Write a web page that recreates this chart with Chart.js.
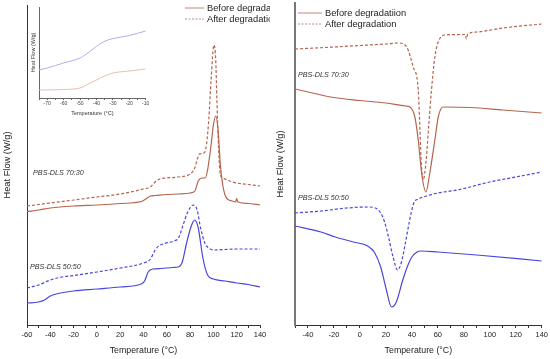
<!DOCTYPE html>
<html>
<head>
<meta charset="utf-8">
<script src="https://cdn.jsdelivr.net/npm/chart.js@4"></script>
<style>
  body { margin: 0; background: #fff; }
  #wrap { position: relative; width: 550px; height: 359px; overflow: hidden; }
  canvas { position: absolute; top: 0; }
</style>
</head>
<body>
<div id="wrap">
  <canvas id="leftChart" width="275" height="359" style="left:0"></canvas>
  <canvas id="rightChart" width="275" height="359" style="left:275px"></canvas>
  <canvas id="insetChart" width="140" height="120" style="left:20px"></canvas>
</div>
<script>
// ---- left panel: heating scans (heat flow, arbitrary offset units) ----
const leftT70Before = [-60, -50, -40, -20, 0, 20, 38, 42, 46, 50, 60, 70, 80, 84, 87, 90, 93, 95, 98, 100, 102, 104, 106, 108, 110, 112, 116, 119, 120, 121, 130, 140];
const leftHF70Before = [113.3, 115, 117, 119, 120, 121.5, 123.5, 126, 129, 129.5, 130.5, 131, 132, 134, 144, 147, 147, 155, 180, 200, 209, 195, 160, 140, 130, 126, 124, 123, 126.5, 123, 121.5, 120];
const leftT70After = [-60, -40, -20, 0, 20, 40, 46, 50, 54, 60, 70, 80, 84, 86, 88, 92, 94, 96, 98, 100.5, 102, 103, 104.5, 106, 108, 114, 120, 130, 140];
const leftHF70After = [119, 122, 125, 128, 131, 136, 138, 143, 146, 147, 148, 151, 157, 165, 171, 172, 180, 205, 245, 280, 265, 225, 175, 150, 147, 144, 142, 140.5, 139];
const leftT50Before = [-60, -50, -45, -40, -35, -20, 0, 20, 38, 41, 44, 48, 55, 65, 70, 73, 77, 81, 84, 87, 91, 95, 100, 110, 120, 130, 140];
const leftHF50Before = [22, 23, 25, 29, 31, 34, 36, 38, 41, 44, 53, 56, 56.5, 57.5, 58, 62, 82, 99, 105, 97, 67, 50, 46, 44, 42, 40.5, 38];
const leftT50After = [-60, -50, -40, -30, -20, 0, 20, 40, 46, 50, 53, 58, 66, 70, 74, 78, 83, 86, 89, 93, 96, 100, 110, 120, 140];
const leftHF50After = [37, 40, 45, 48, 49.5, 53, 57, 62, 66, 75, 79, 81.5, 84, 87, 100, 113, 120, 115, 97, 81, 77, 75, 75.5, 76, 76];

// ---- right panel: cooling scans ----
const rightT70Before = [-50, -20, 0, 20, 35, 38.5, 42.3, 44.9, 47.5, 50.8, 53.8, 57.7, 60.3, 64, 85, 110, 140];
const rightHF70Before = [236, 227.5, 224.5, 222, 219, 218, 208, 185, 152, 133, 152, 185, 208, 218, 217.5, 215, 212];
const rightT70After = [-50, -20, 0, 20, 30, 36, 41, 44.9, 47.4, 48.7, 51, 53, 55.1, 57.7, 60.3, 65, 81, 82, 83, 90, 110, 140];
const rightHF70After = [276, 278, 279.5, 281, 282, 278, 258, 235, 158, 145, 165, 200, 235, 268, 283, 290, 290.5, 286, 291, 293, 297, 301];
const rightT50Before = [-50, -30, -19, -5, 6, 11, 16, 20, 24.4, 28, 33, 37, 40, 44, 47, 60, 90, 140];
const rightHF50Before = [99, 93, 88, 83, 79, 73, 58, 37, 18, 23, 45, 60, 68, 73, 74, 73, 70, 64];
const rightT50After = [-50, -30, -10, 6, 12, 16, 19, 22, 25.5, 29, 32, 35, 38, 41.5, 45, 50, 60, 75, 100, 120, 140];
const rightHF50After = [112, 114, 117, 118, 117, 112, 103, 88, 68, 55, 63, 82, 103, 122, 126, 128.5, 132, 135, 143, 148, 153];

// ---- inset: glass transition region ----
const insetTBlue = [-75, -70, -60, -50, -47, -42, -38, -33, -25, -20, -10];
const insetHFBlue = [28, 30, 35, 40, 43, 49, 54, 58, 61, 62.5, 67];
const insetTRed = [-75, -60, -50, -45, -40, -35, -30, -20, -10];
const insetHFRed = [8, 8.5, 10, 14, 18, 22, 25, 27, 29];

const legendLabelsLeft = ['Before degradation', 'After degradation'];
const legendLabelsRight = ['Before degradatiion', 'After degradation'];
const sampleLabels = ['PBS-DLS 70:30', 'PBS-DLS 50:50'];

const RED = '#b5644f';
const BLUE = '#4747dc';
const FONT = "'Liberation Sans', Arial, sans-serif";
Chart.defaults.font.family = FONT;
Chart.defaults.color = '#222';

function pts(xs, ys) {
  return xs.map((x, i) => ({ x: x, y: ys[i] }));
}

function line(data, color, dashed) {
  return {
    data: data,
    borderColor: color,
    borderWidth: 1.2,
    borderDash: dashed ? [3, 2] : [],
    pointRadius: 0,
    fill: false,
    cubicInterpolationMode: 'monotone'
  };
}

// draws legend block and the italic sample names
function textPlugin(cfg) {
  return {
    id: 'panelText',
    afterDraw(chart) {
      const ctx = chart.ctx;
      const sx = chart.scales.x, sy = chart.scales.y;
      ctx.save();
      ctx.beginPath();
      ctx.rect(0, 0, cfg.clipRight, chart.height);
      ctx.clip();
      ctx.font = '9.3px ' + FONT;
      ctx.textBaseline = 'middle';
      cfg.legend.forEach((item, i) => {
        const y = cfg.legendY + i * 11;
        ctx.strokeStyle = '#c08a7c';
        ctx.lineWidth = 1;
        ctx.setLineDash(i === 0 ? [] : [2, 1.5]);
        ctx.beginPath();
        ctx.moveTo(cfg.legendX, y);
        ctx.lineTo(cfg.legendX + cfg.sampleLen, y);
        ctx.stroke();
        ctx.setLineDash([]);
        ctx.fillStyle = '#222';
        ctx.fillText(item, cfg.legendX + cfg.sampleLen + 3, y);
      });
      ctx.font = 'italic 7.2px ' + FONT;
      ctx.fillStyle = '#333';
      cfg.notes.forEach(n => {
        ctx.fillText(n.text, sx.getPixelForValue(n.x), sy.getPixelForValue(n.y));
      });
      ctx.restore();
    }
  };
}

function panelOptions(xMin, xMax, yMax, yWidth, pad, yBorder) {
  return {
    responsive: false,
    animation: false,
    devicePixelRatio: 1,
    layout: { padding: pad },
    plugins: { legend: { display: false }, tooltip: { enabled: false } },
    scales: {
      x: {
        type: 'linear', min: xMin, max: xMax,
        afterFit: s => { s.height = 34; },
        ticks: {
          stepSize: 10, autoSkip: false, maxRotation: 0, padding: 2,
          font: { size: 7.5 }, color: '#222',
          callback: v => (v % 20 === 0 ? v : '')
        },
        grid: { drawOnChartArea: false, tickLength: 3, color: '#333' },
        border: { color: '#333', width: 1 },
        title: { display: true, text: 'Temperature (°C)', font: { size: 8.8 }, color: '#222', padding: { top: 0, bottom: 3 } }
      },
      y: {
        min: 0, max: yMax,
        afterFit: s => { s.width = yWidth; },
        ticks: { display: false },
        grid: { display: false },
        border: yBorder,
        title: { display: true, text: 'Heat Flow (W/g)', font: { size: 9.3 }, color: '#222', padding: { top: yWidth > 25 ? 2 : 0, bottom: 0 } }
      }
    }
  };
}

new Chart(document.getElementById('leftChart'), {
  type: 'line',
  data: {
    datasets: [
      line(pts(leftT70Before, leftHF70Before), RED, false),
      line(pts(leftT70After, leftHF70After), RED, true),
      line(pts(leftT50Before, leftHF50Before), BLUE, false),
      line(pts(leftT50After, leftHF50After), BLUE, true)
    ]
  },
  options: panelOptions(-60, 140, 320, 27, { top: 5, right: 15, left: 0, bottom: 0 }, { color: '#333', width: 1 }),
  plugins: [textPlugin({
    legend: legendLabelsLeft, legendX: 185, legendY: 8, sampleLen: 19, clipRight: 270,
    notes: [{ text: sampleLabels[0], x: -54.8, y: 152 }, { text: sampleLabels[1], x: -57.4, y: 58 }]
  })]
});

new Chart(document.getElementById('rightChart'), {
  type: 'line',
  data: {
    datasets: [
      line(pts(rightT70Before, rightHF70Before), RED, false),
      line(pts(rightT70After, rightHF70After), RED, true),
      line(pts(rightT50Before, rightHF50Before), BLUE, false),
      line(pts(rightT50After, rightHF50After), BLUE, true)
    ]
  },
  options: panelOptions(-50, 140, 322, 20, { top: 3, right: 8, left: 0, bottom: 0 }, { color: '#777', width: 2 }),
  plugins: [textPlugin({
    legend: legendLabelsRight, legendX: 23, legendY: 13, sampleLen: 24, clipRight: 275,
    notes: [{ text: sampleLabels[0], x: -47.7, y: 250 }, { text: sampleLabels[1], x: -47.7, y: 127 }]
  })]
});

new Chart(document.getElementById('insetChart'), {
  type: 'line',
  data: {
    datasets: [
      Object.assign(line(pts(insetTBlue, insetHFBlue), '#aeaef0', false), { borderWidth: 1 }),
      Object.assign(line(pts(insetTRed, insetHFRed), '#ebbdb4', false), { borderWidth: 1 })
    ]
  },
  options: {
    responsive: false,
    animation: false,
    devicePixelRatio: 1,
    layout: { padding: { top: 7, right: 14.3, left: 0, bottom: 0 } },
    plugins: { legend: { display: false }, tooltip: { enabled: false } },
    scales: {
      x: {
        type: 'linear', min: -75, max: -10,
        afterFit: s => { s.height = 22; },
        ticks: {
          stepSize: 5, autoSkip: false, maxRotation: 0, padding: 1,
          font: { size: 5 }, color: '#444',
          callback: v => (v % 10 === 0 ? v : '')
        },
        grid: { drawOnChartArea: false, tickLength: 2, color: '#666' },
        border: { color: '#666', width: 1 },
        title: { display: true, text: 'Temperature (°C)', font: { size: 5.5 }, color: '#333', padding: { top: 0, bottom: 3.7 } }
      },
      y: {
        min: 0, max: 91,
        afterFit: s => { s.width = 19; },
        ticks: { display: false },
        grid: { display: false },
        border: { color: '#666', width: 1 },
        title: { display: true, text: 'Heat Flow (W/g)', font: { size: 5.5 }, color: '#333', padding: { top: 9.7, bottom: 0 } }
      }
    }
  }
});
</script>
</body>
</html>
